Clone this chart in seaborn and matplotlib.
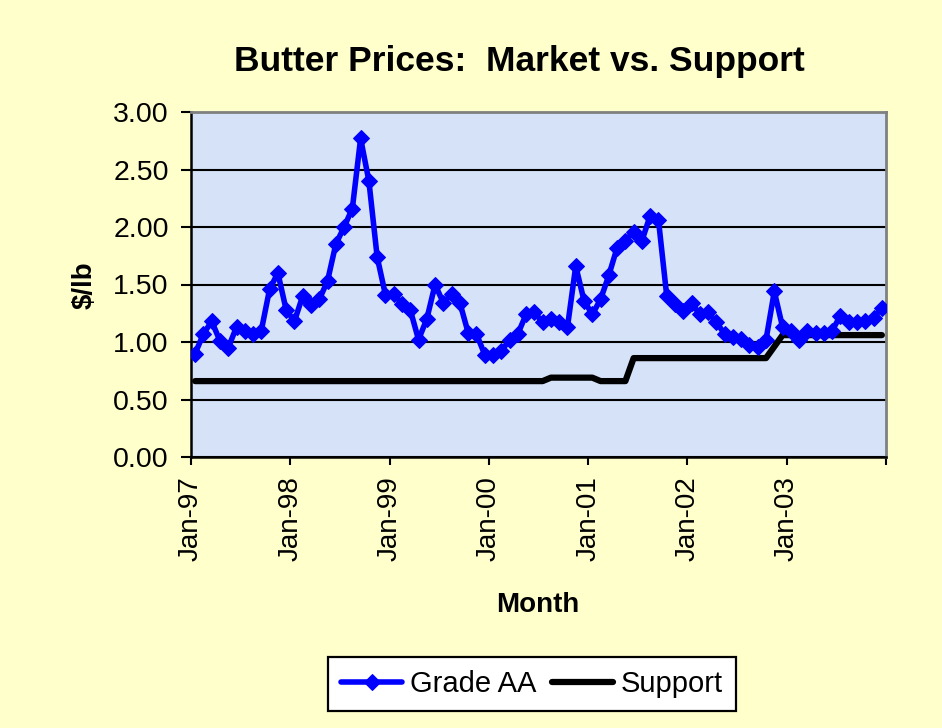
import numpy as np
import pandas as pd
import matplotlib
matplotlib.use("Agg")
import matplotlib.pyplot as plt
import seaborn as sns

# ---- data ----
months = pd.date_range("1997-01-01", periods=84, freq="MS").strftime("%b-%y").tolist()
grade_aa = [0.90, 1.07, 1.18, 1.01, 0.95, 1.13, 1.10, 1.07, 1.10, 1.46, 1.60, 1.28,
            1.18, 1.40, 1.32, 1.37, 1.53, 1.85, 2.00, 2.16, 2.77, 2.40, 1.74, 1.41,
            1.42, 1.33, 1.28, 1.02, 1.20, 1.50, 1.34, 1.42, 1.34, 1.08, 1.07, 0.89,
            0.89, 0.92, 1.02, 1.07, 1.24, 1.26, 1.17, 1.20, 1.17, 1.13, 1.66, 1.36,
            1.24, 1.37, 1.58, 1.82, 1.88, 1.96, 1.88, 2.10, 2.06, 1.40, 1.33, 1.27,
            1.34, 1.24, 1.26, 1.17, 1.07, 1.04, 1.03, 0.97, 0.96, 1.02, 1.44, 1.13,
            1.10, 1.02, 1.10, 1.08, 1.08, 1.10, 1.23, 1.17, 1.17, 1.18, 1.21, 1.30]
support = ([0.66] * 43 + [0.69] * 6 + [0.66] * 4 + [0.86] * 17 + [0.96] + [1.06] * 13)
tick_labels = ["Jan-97", "Jan-98", "Jan-99", "Jan-00", "Jan-01", "Jan-02", "Jan-03", ""]
y_ticks = [0.0, 0.5, 1.0, 1.5, 2.0, 2.5, 3.0]

sns.set_style("white")
plt.rcParams["font.family"] = ["Liberation Sans", "DejaVu Sans"]
plt.rcParams.update({"text.color": "black", "axes.labelcolor": "black",
                     "xtick.color": "black", "ytick.color": "black"})

idx = np.arange(len(months))
df = pd.DataFrame({"pos": idx + 0.5, "month": months,
                   "Grade AA": grade_aa, "Support": support})

fig = plt.figure(figsize=(9.42, 7.28), dpi=100, facecolor="#FFFFCC")
ax = fig.add_axes([191 / 942, 1 - 457 / 728, 695 / 942, 345 / 728])
ax.set_facecolor("#D5E2F7")

sns.lineplot(data=df, x="pos", y="Grade AA", ax=ax, color="#0000FF", lw=4.0,
             marker="D", markersize=8.5, markeredgecolor="#0000FF", label="Grade AA",
             zorder=4)
sns.lineplot(data=df, x="pos", y="Support", ax=ax, color="black", lw=4.5,
             label="Support", zorder=3)

ax.set_xlim(0, 84)
ax.set_ylim(0, 3.0)
ax.set_xticks(np.arange(0, 85, 12))
ax.set_xticklabels(tick_labels, rotation=90, fontsize=20)
ax.set_yticks(y_ticks)
ax.set_yticklabels([f"{v:.2f}" for v in y_ticks], fontsize=20.5)
ax.tick_params(axis="x", direction="out", length=6, width=1.5, pad=8, colors="black")
ax.tick_params(axis="y", direction="out", length=7, width=1.5, pad=9, colors="black")
ax.xaxis.set_ticks_position("bottom")
ax.yaxis.set_ticks_position("left")

ax.set_axisbelow(True)
ax.yaxis.grid(True, color="black", lw=1.5)
ax.xaxis.grid(False)
for s in ["left", "bottom"]:
    ax.spines[s].set_color("black")
    ax.spines[s].set_linewidth(1.8)
for s in ["top", "right"]:
    ax.spines[s].set_color("#808080")
    ax.spines[s].set_linewidth(2.0)

ax.set_xlabel("")
ax.set_ylabel("")
fig.text(519 / 942, 1 - 61 / 728, "Butter Prices:  Market vs. Support",
         fontsize=25.5, fontweight="bold", ha="center", va="center", color="black")
fig.text(538 / 942, 1 - 605 / 728, "Month", fontsize=20, fontweight="bold",
         ha="center", va="center", color="black")
fig.text(85 / 942, 1 - 285 / 728, "$/lb", fontsize=20, fontweight="bold",
         ha="center", va="center", rotation=90, color="black")

ax.get_legend().remove()
handles, labels = ax.get_legend_handles_labels()
leg = fig.legend(handles, labels, loc="center", ncol=2,
                 bbox_to_anchor=(532 / 942, 1 - 684 / 728), fontsize=21,
                 frameon=True, fancybox=False, edgecolor="black", facecolor="white",
                 framealpha=1, handlelength=2.1, handletextpad=0.25, columnspacing=0.55,
                 borderpad=0.45)
leg.get_frame().set_linewidth(1.6)
for t in leg.get_texts():
    t.set_color("black")

fig.savefig("out.png", dpi=100, facecolor=fig.get_facecolor())
